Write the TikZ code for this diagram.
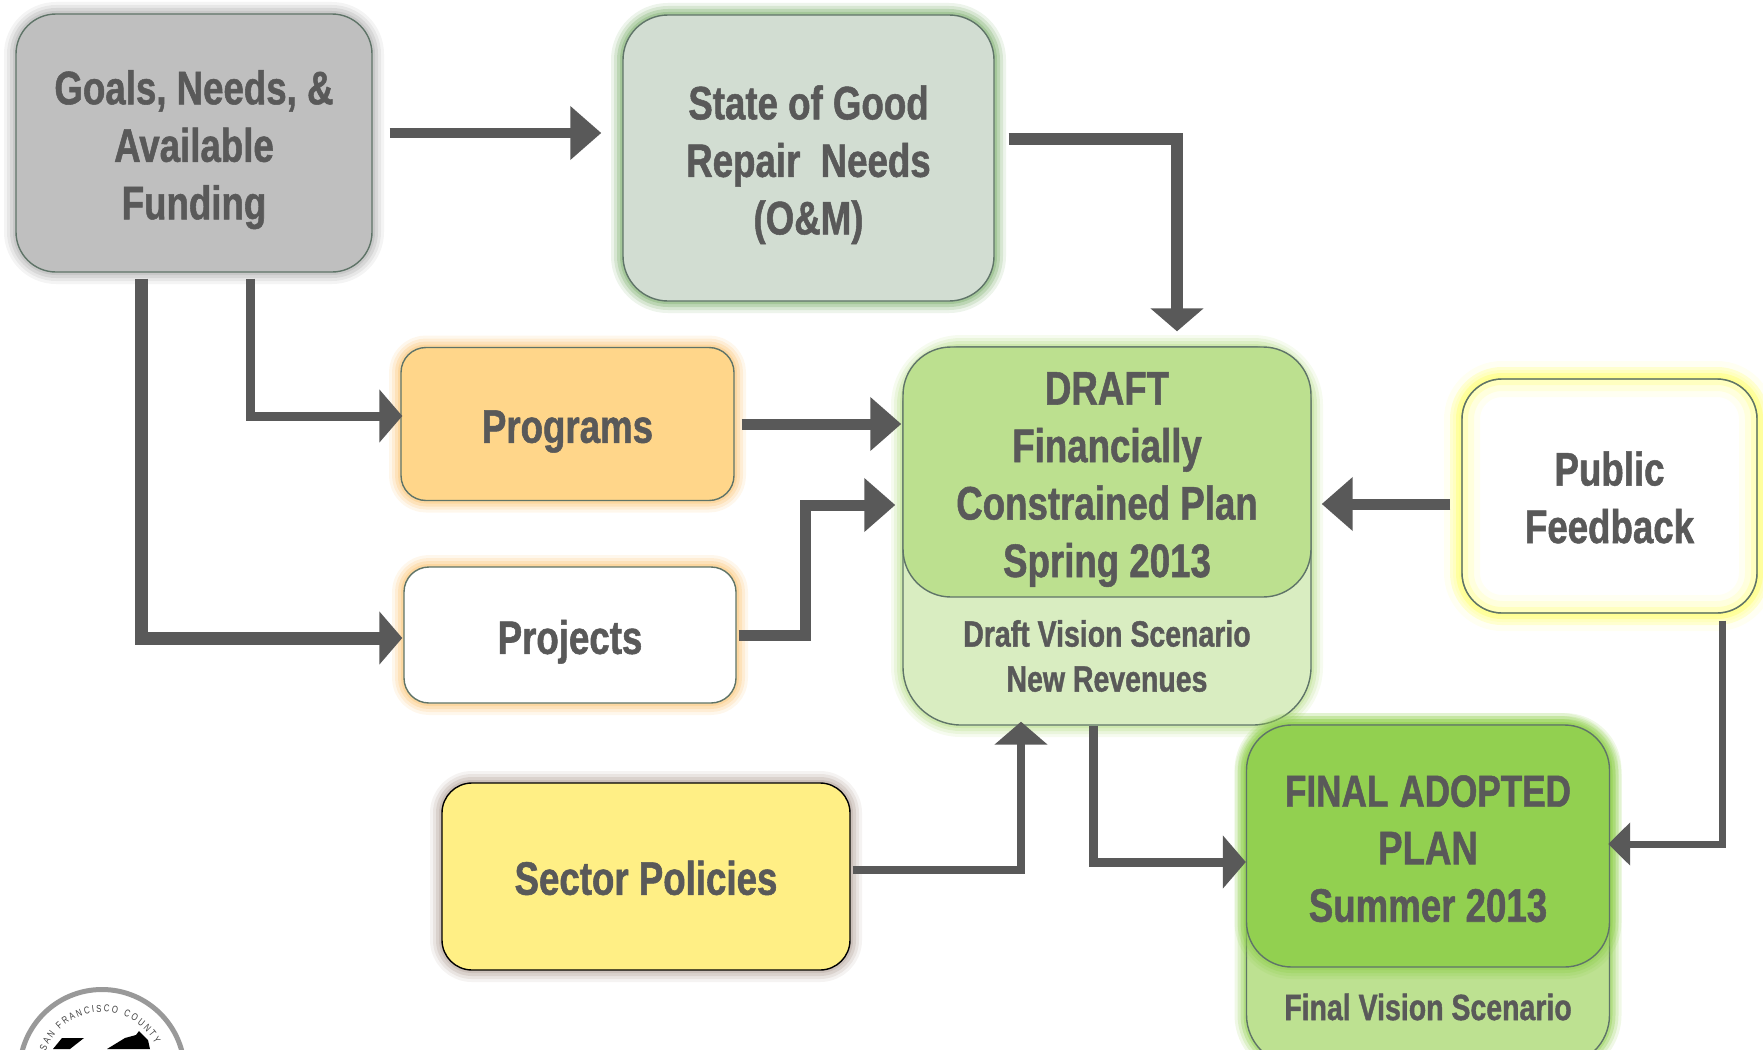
\documentclass[tikz,border=0pt]{standalone}
\usepackage{fontspec}
\setmainfont{Liberation Sans}[FakeStretch=0.78,BoldFeatures={FakeBold=1.1}]
\usetikzlibrary{arrows.meta,decorations.text}
\definecolor{inktext}{HTML}{595959}
\definecolor{ink}{HTML}{595959}
\definecolor{edge}{HTML}{5F7468}
\definecolor{cgoals}{HTML}{BFBFBF}
\definecolor{cstate}{HTML}{D2DDD2}
\definecolor{cprog}{HTML}{FFD68A}
\definecolor{cdraft}{HTML}{BCE08F}
\definecolor{cdraftlow}{HTML}{D9EDC1}
\definecolor{cfinal}{HTML}{92D050}
\definecolor{cfinallow}{HTML}{BDE191}
\definecolor{csector}{HTML}{FFEF85}
\definecolor{gstate}{HTML}{7FB070}
\definecolor{gorange}{HTML}{FBC77A}
\definecolor{gyellow}{HTML}{FFFF80}
\definecolor{gsector}{HTML}{B8A8A0}
\newcommand{\dropbig}{\rule{0pt}{47.5pt}}
\newcommand{\dropsmall}{\rule{0pt}{37pt}}
\tikzset{
  x=1pt,y=-1pt,
  glow/.style={
    preaction={draw=#1,line width=24pt,draw opacity=.14,line join=round},
    preaction={draw=#1,line width=18pt,draw opacity=.2,line join=round},
    preaction={draw=#1,line width=12pt,draw opacity=.3,line join=round},
    preaction={draw=#1,line width=6pt,draw opacity=.4,line join=round}},
  innerglow/.style={
    postaction={draw=#1,line width=36pt,draw opacity=.1},
    postaction={draw=#1,line width=24pt,draw opacity=.18},
    postaction={draw=#1,line width=12pt,draw opacity=.3},
    postaction={draw=edge,line width=1.4pt}},
  boxnode/.style args={#1/#2/#3/#4}{draw=edge,line width=1.4pt,rounded corners=#4,inner sep=0pt,
    minimum width=#1,minimum height=#2,fill=#3,align=center,text=inktext,
    font=\bfseries\fontsize{47}{57.5}\selectfont},
  smalltext/.style={inner sep=0pt,align=center,text=inktext,font=\bfseries\fontsize{36.5}{45}\selectfont},
  conn/.style={draw=ink,line width=#1,-{Triangle[width=52pt,length=31pt]},line join=miter},
  connshort/.style={draw=ink,line width=#1,-{Triangle[width=52pt,length=23pt]},line join=miter},
  connnarrow/.style={draw=ink,line width=#1,-{Triangle[width=42pt,length=22pt]},line join=miter},
}
\begin{document}
\begin{tikzpicture}
\useasboundingbox (0,0) rectangle (1763,1049);
% seal
\node[circle,draw=black!40,line width=5pt,fill=white,minimum size=165pt,inner sep=0pt] (seal) at (102,1072) {};
\fill[black] (53,1049) -- (62,1038) -- (84,1038) -- (70,1049) -- cycle;
\fill[black] (107,1049) -- (125,1038) -- (136,1035) -- (139,1031) -- (148,1040) -- (150,1049) -- cycle;
\path[decorate,decoration={text along path,text align=fit to path,
  text={|\fontsize{10}{10}\selectfont\color{black!75}|SAN FRANCISCO COUNTY}}]
  plot[domain=160:28,samples=60] ({102+60*cos(\x)},{1072-60*sin(\x)});
% boxes
\node[boxnode=356pt/258pt/cgoals/40pt,glow=black!30] (goals) at (194,143) {\dropbig Goals, Needs, \&\\Available\\Funding};
\node[boxnode=371pt/286pt/cstate/45pt,glow=gstate] (state) at (808.5,158) {\dropbig State of Good\\Repair\ \ Needs\\(O\&M)};
\node[boxnode=333pt/153pt/cprog/25pt,glow=gorange] (programs) at (567.5,424) {\dropbig Programs};
\node[boxnode=332pt/136pt/white/25pt,glow=gorange] (projects) at (570,635) {\dropbig Projects};
\node[boxnode=408pt/378pt/cdraftlow/58pt,glow=cdraft] (draftlow) at (1107,536) {};
\node[boxnode=408pt/250pt/cdraft/48pt] (draft) at (1107,472) {\dropbig DRAFT\\Financially\\Constrained Plan\\Spring 2013};
\node[smalltext] (draftvision) at (1107,656) {Draft Vision Scenario\\New Revenues};
\node[boxnode=295pt/234pt/white/40pt,glow=gyellow,innerglow=gyellow] (public) at (1609.5,496) {\dropsmall Public\\Feedback};
\node[boxnode=363pt/340pt/cfinallow/50pt,glow=cfinal] (finallow) at (1428,895) {};
\node[boxnode=363pt/242pt/cfinal/45pt,glow=cfinal] (final) at (1428,846) {\dropsmall{\fontsize{45}{57.5}\selectfont FINAL\hspace{11pt}ADOPTED}\\PLAN\\Summer 2013};
\node[smalltext] (finalvision) at (1428,1007) {Final Vision Scenario};
\node[boxnode=408pt/187pt/csector/30pt,draw=black,glow=gsector] (sector) at (646,876.5) {\dropsmall Sector Policies};
% connectors
\draw[conn=10pt,shorten <=17pt,shorten >=21pt] (goals.east |- 0,133) -- (state.west |- 0,133);
\draw[connshort=12pt,shorten <=14pt,shorten >=15pt] (state.east |- 0,139) -| (draftlow.north -| 1177,0);
\draw[connshort=13pt,shorten <=6pt,shorten >=1pt] (goals.south -| 141,0) |- (projects.west |- 0,638);
\draw[connshort=9pt,shorten <=6pt,shorten >=-2pt] (goals.south -| 250,0) |- (programs.west |- 0,416);
\draw[conn=11pt,shorten <=7pt,shorten >=1pt] (programs.east |- 0,424) -- (draft.west |- 0,424);
\draw[conn=11pt,shorten <=2pt,shorten >=7pt] (projects.east |- 0,635) -| (805,570) |- (draft.west |- 0,505);
\draw[conn=11pt,shorten <=11pt,shorten >=10pt] (public.west |- 0,504) -- (draft.east |- 0,504);
\draw[connnarrow=7pt,shorten <=7pt,shorten >=-2pt] (public.south -| 1722,0) |- (final.east |- 0,844);
\draw[connshort=9pt] (draftlow.south -| 1093,0) |- (final.west |- 0,862);
\draw[connshort=8pt,shorten <=2pt,shorten >=-4pt] (sector.east |- 0,870) -| (draftlow.south -| 1021,0);
\end{tikzpicture}
\end{document}
